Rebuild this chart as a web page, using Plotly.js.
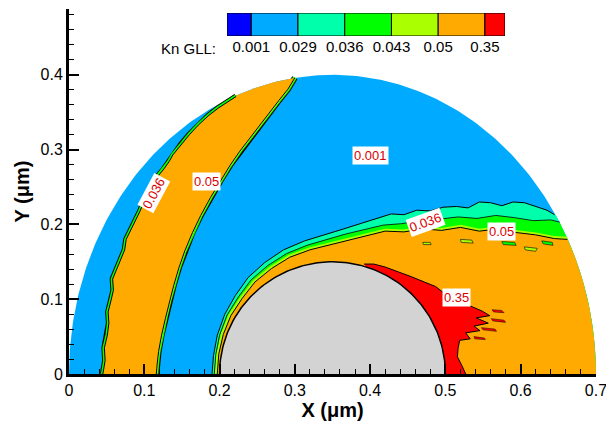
<!DOCTYPE html>
<html><head><meta charset="utf-8">
<script src="https://cdn.plot.ly/plotly-3.0.1.min.js"></script>
<style>html,body{margin:0;padding:0;background:#fff}#chart{width:606px;height:424px}</style>
</head><body><div id="chart"></div>
<script>
// ---- contour legend (Kn GLL levels) ----
const levelLabels = ['0.001','0.029','0.036','0.043','0.05','0.35'];
const levelColors = ['#0000ff','#00aaff','#00ffaa','#00ff00','#aaff00','#ffaa00','#ff0000'];

// ---- geometry (micrometres) ----
const domainCx = 0.35, domainRx = 0.35, domainRy = 0.40;   // outer semi-ellipse
const bodyCx = 0.35, bodyR = 0.15;                          // solid semicircle

// left shock band (Kn ~ 0.05), outer edge bottom->top
const bandOuterX = [0.045,0.048,0.047,0.051,0.053,0.052,0.056,0.059,0.058,0.064,0.069,0.074,0.076,0.083,0.090,0.095,0.099,0.106,0.110,0.117,0.126,0.133,0.138,0.149,0.160,0.172,0.186,0.199,0.212,0.222];
const bandOuterY = [0.000,0.018,0.035,0.052,0.068,0.083,0.099,0.112,0.127,0.142,0.156,0.166,0.180,0.194,0.207,0.219,0.230,0.243,0.253,0.263,0.274,0.284,0.293,0.307,0.320,0.333,0.346,0.356,0.365,0.371];
// inner edge top->bottom
const bandInnerX = [0.300,0.291,0.279,0.266,0.253,0.240,0.227,0.214,0.201,0.188,0.175,0.164,0.154,0.146,0.139,0.133,0.128,0.123,0.119,0.117,0.116];
const bandInnerY = [0.396,0.381,0.366,0.349,0.333,0.316,0.298,0.279,0.258,0.236,0.212,0.189,0.165,0.142,0.118,0.096,0.074,0.052,0.030,0.012,0.000];

// region round the body: level edges, left->right
const nearUpperX = [0.190,0.192,0.197,0.207,0.221,0.238,0.260,0.285,0.313,0.340,0.365,0.390,0.410,0.428,0.445,0.462,0.480,0.497,0.515,0.530,0.545,0.560,0.575,0.590,0.605,0.620,0.635,0.645];
const nearUpperY = [0.000,0.025,0.052,0.080,0.105,0.129,0.149,0.166,0.178,0.186,0.194,0.202,0.208,0.214,0.213,0.219,0.218,0.223,0.224,0.222,0.230,0.229,0.225,0.230,0.229,0.224,0.219,0.213];
const nearMidX = [0.193,0.195,0.200,0.210,0.225,0.242,0.264,0.289,0.316,0.342,0.367,0.392,0.417,0.442,0.467,0.492,0.517,0.542,0.567,0.592,0.617,0.640,0.652];
const nearMidY = [0.000,0.026,0.052,0.079,0.103,0.126,0.145,0.161,0.172,0.180,0.187,0.193,0.199,0.201,0.205,0.207,0.210,0.208,0.212,0.209,0.205,0.206,0.203];
const nearOrangeX = [0.197,0.199,0.205,0.215,0.230,0.247,0.269,0.293,0.320,0.345,0.370,0.395,0.420,0.445,0.470,0.495,0.520,0.545,0.570,0.595,0.620,0.645,0.662];
const nearOrangeY = [0.000,0.027,0.053,0.078,0.101,0.123,0.141,0.156,0.166,0.172,0.178,0.185,0.191,0.190,0.194,0.192,0.196,0.191,0.194,0.189,0.186,0.181,0.180];
// small intermediate-level islands just below the fringe
const blobX = [[0.520,0.535,0.537,0.521],[0.575,0.592,0.594,0.577],[0.605,0.622,0.620,0.606],[0.628,0.642,0.643,0.630],[0.470,0.480,0.481,0.471]];
const blobY = [[0.180,0.179,0.175,0.176],[0.177,0.176,0.172,0.173],[0.170,0.168,0.164,0.166],[0.178,0.176,0.172,0.174],[0.176,0.176,0.173,0.173]];

// high-Kn region behind the body (Kn ~ 0.35)
const redX = [0.392,0.405,0.420,0.437,0.455,0.472,0.487,0.497,0.513,0.533,0.549,0.559,0.541,0.557,0.538,0.546,0.527,0.533,0.519,0.517,0.516,0.522,0.527,0.500];
const redY = [0.147,0.147,0.143,0.137,0.130,0.123,0.117,0.109,0.099,0.091,0.084,0.078,0.075,0.068,0.064,0.058,0.055,0.047,0.045,0.035,0.023,0.011,0.000,0.000];
// detached red streaks in the wake
const streakX = [[0.562,0.575,0.578,0.564],[0.561,0.578,0.580,0.563],[0.548,0.566,0.568,0.550],[0.538,0.552,0.553,0.539]];
const streakY = [[0.086,0.085,0.082,0.083],[0.074,0.072,0.069,0.071],[0.062,0.060,0.057,0.059],[0.050,0.048,0.046,0.047]];

// contour labels
const labelText = ['0.001','0.05','0.036','0.036','0.05','0.35'];
const labelX = [0.401,0.183,0.112,0.473,0.575,0.515];
const labelY = [0.292,0.258,0.242,0.203,0.190,0.102];
const labelAngle = [0,0,-62,-20,0,0];

// ---- helpers ----
function ellArc(x0, x1, n){
  const t0 = Math.acos((x0-domainCx)/domainRx), t1 = Math.acos((x1-domainCx)/domainRx);
  const xs=[], ys=[];
  for(let i=0;i<=n;i++){const t=t0+(t1-t0)*i/n; xs.push(domainCx+domainRx*Math.cos(t)); ys.push(domainRy*Math.sin(t));}
  return [xs, ys];
}
function bodyArc(n){
  const xs=[], ys=[];
  for(let i=0;i<=n;i++){const t=Math.PI*(1-i/n); xs.push(bodyCx+bodyR*Math.cos(t)); ys.push(bodyR*Math.sin(t));}
  return [xs, ys];
}
function poly(xs, ys, color){
  return {type:'scatter', mode:'lines', x:xs, y:ys, fill:'toself', fillcolor:color, line:{width:0, color:color}, hoverinfo:'skip', showlegend:false};
}
function edge(xs, ys, color, w){
  return {type:'scatter', mode:'lines', x:xs, y:ys, line:{width:w, color:color}, hoverinfo:'skip', showlegend:false};
}
function island(xs, ys, color, w){
  return {type:'scatter', mode:'lines', x:xs.concat([xs[0]]), y:ys.concat([ys[0]]), fill:'toself', fillcolor:color, line:{width:w, color:'black'}, hoverinfo:'skip', showlegend:false};
}

const traces = [];
// outer domain (light blue)
const dom = ellArc(0, 0.7, 240);
traces.push(poly(dom[0], dom[1], levelColors[1]));

// left band
const topArc = ellArc(0.222, 0.300, 30);
const bandX = bandOuterX.concat(topArc[0], bandInnerX);
const bandY = bandOuterY.concat(topArc[1], bandInnerY);
traces.push(edge(bandOuterX, bandOuterY, 'black', 6));
traces.push(edge(bandOuterX, bandOuterY, levelColors[3], 4));
traces.push(edge(bandInnerX, bandInnerY, 'black', 6));
traces.push(edge(bandInnerX, bandInnerY, levelColors[3], 4));
traces.push(edge(bandInnerX, bandInnerY, levelColors[4], 2));
traces.push(poly(bandX, bandY, levelColors[5]));
traces.push(edge(bandOuterX, bandOuterY, 'black', 1));
traces.push(edge(bandInnerX, bandInnerY, 'black', 1));

// region round the body
const a1 = ellArc(nearUpperX[nearUpperX.length-1], 0.7, 40);
traces.push(poly(nearUpperX.concat(a1[0]), nearUpperY.concat(a1[1]), levelColors[2]));
const a2 = ellArc(nearMidX[nearMidX.length-1], 0.7, 40);
traces.push(poly(nearMidX.concat(a2[0]), nearMidY.concat(a2[1]), levelColors[3]));
traces.push(edge(nearOrangeX, nearOrangeY, levelColors[4], 5));
const a3 = ellArc(nearOrangeX[nearOrangeX.length-1], 0.7, 40);
traces.push(poly(nearOrangeX.concat(a3[0]), nearOrangeY.concat(a3[1]), levelColors[5]));
traces.push(edge(nearUpperX, nearUpperY, 'black', 1));
traces.push(edge(nearMidX, nearMidY, 'black', 0.8));
traces.push(edge(nearOrangeX, nearOrangeY, 'black', 1));
for(let i=0;i<blobX.length;i++) traces.push(island(blobX[i], blobY[i], i%2 ? levelColors[3] : levelColors[4], 0.6));

// red wake
traces.push(poly(redX, redY, levelColors[6]));
traces.push(edge(redX.slice(0,-1), redY.slice(0,-1), 'black', 1));
for(let i=0;i<streakX.length;i++) traces.push(island(streakX[i], streakY[i], levelColors[6], 0.5));

// body
const b = bodyArc(120);
traces.push({type:'scatter', mode:'lines', x:b[0], y:b[1], fill:'toself', fillcolor:'#d3d3d3', line:{width:1.5, color:'black'}, hoverinfo:'skip', showlegend:false});

// legend bar (own small axes)
const legendEdges = [-0.52,0,1,2,3,4,5,5.43];
const lx=[], lw=[], ly=[];
for(let i=0;i<levelColors.length;i++){lx.push((legendEdges[i]+legendEdges[i+1])/2); lw.push(legendEdges[i+1]-legendEdges[i]); ly.push(1);}
traces.push({type:'bar', x:lx, y:ly, width:lw, base:0, xaxis:'x2', yaxis:'y2', marker:{color:levelColors, line:{color:'black', width:1}}, hoverinfo:'skip', showlegend:false});

const FONT = 'Liberation Sans, Arial, sans-serif';
const annotations = labelText.map((t,i)=>({
  x:labelX[i], y:labelY[i], xref:'x', yref:'y', text:t, showarrow:false, textangle:labelAngle[i],
  font:{family:FONT, size:13, color:'#d80000'}, bgcolor:'white', borderpad:1
}));
annotations.push({x:0.2827, y:0.893, xref:'paper', yref:'paper', text:'Kn GLL:', showarrow:false, xanchor:'right', yanchor:'middle', font:{family:FONT, size:15, color:'black'}});

const axisCommon = {
  showline:true, linecolor:'black', linewidth:3, ticks:'inside', ticklen:10, tickwidth:2, tickcolor:'black',
  tick0:0, dtick:0.1, showgrid:false, zeroline:false, tickfont:{family:FONT, size:16, color:'black'},
  ticklabeloverflow:'allow',
  minor:{tick0:0, dtick:0.02, ticks:'inside', ticklen:5, tickwidth:1, tickcolor:'black', showgrid:false}
};

const layout = {
  width:606, height:424, margin:{l:69, r:10, t:9, b:50},
  paper_bgcolor:'white', plot_bgcolor:'rgba(0,0,0,0)', showlegend:false,
  xaxis: Object.assign({}, axisCommon, {range:[0,0.7001], anchor:'y',
    title:{text:'<b>X (μm)</b>', font:{family:FONT, size:20, color:'black'}, standoff:3}}),
  yaxis: Object.assign({}, axisCommon, {range:[0,0.488], anchor:'x',
    title:{text:'<b>Y (μm)</b>', font:{family:FONT, size:20, color:'black'}, standoff:6}}),
  xaxis2: {domain:[0.2998,0.8273], anchor:'y2', range:[-0.52,5.43], tickmode:'array', tickvals:[0,1,2,3,4,5], ticktext:levelLabels,
    ticks:'', showline:false, showgrid:false, zeroline:false, fixedrange:true, tickfont:{family:FONT, size:15, color:'black'}},
  yaxis2: {domain:[0.926,0.989], anchor:'x2', range:[0,1], visible:false, fixedrange:true},
  annotations: annotations
};

Plotly.newPlot('chart', traces, layout, {displayModeBar:false, staticPlot:true});
</script>
</body></html>
